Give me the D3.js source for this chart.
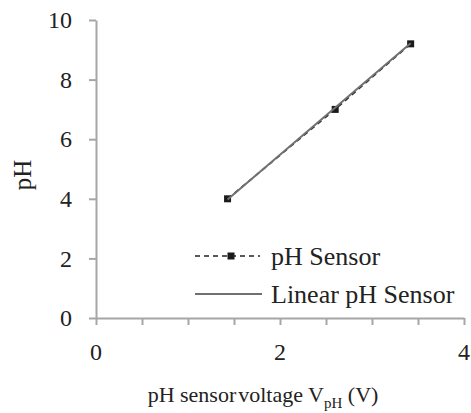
<!DOCTYPE html>
<html>
<head>
<meta charset="utf-8">
<script src="https://cdn.jsdelivr.net/npm/d3@7"></script>
<style>
  body { margin: 0; background: #fff; }
  text { font-family: "Liberation Serif", "Times New Roman", serif; fill: #222; }
</style>
</head>
<body>
<svg id="chart"></svg>
<script>
// data
const voltage = [1.43, 2.60, 3.42];
const phValues = [4.0, 7.0, 9.2];
// linear fit endpoints
const fitVoltage = [1.43, 3.42];
const fitPh = [3.98, 9.22];
const xTicks = [0, 2, 4];
const yTicks = [0, 2, 4, 6, 8, 10];
const legendLabels = ["pH Sensor", "Linear pH Sensor"];

const svg = d3.select("#chart")
    .attr("width", 471)
    .attr("height", 413);

const x = d3.scaleLinear().domain([0, 4]).range([96, 464]);
const y = d3.scaleLinear().domain([0, 10]).range([318, 20]);

const axisColor = "#a6a6a6";

// y axis
const yAxis = svg.append("g")
    .attr("transform", "translate(96,0)")
    .call(d3.axisLeft(y).tickValues(yTicks).tickSize(7).tickSizeOuter(0).tickFormat(d3.format("d")));
yAxis.select(".domain").attr("stroke", axisColor).attr("stroke-width", 2);
yAxis.selectAll(".tick line").attr("stroke", axisColor).attr("stroke-width", 2);
yAxis.selectAll(".tick text")
    .attr("x", -24)
    .style("font-family", "Liberation Serif")
    .style("font-size", "24px")
    .attr("fill", "#222");

// x axis, minor ticks every 0.5
const xAxis = svg.append("g")
    .attr("transform", "translate(0,318)")
    .call(d3.axisBottom(x).ticks(8).tickSize(7).tickSizeOuter(0).tickFormat(""));
xAxis.select(".domain").attr("stroke", axisColor).attr("stroke-width", 2);
xAxis.selectAll(".tick line").attr("stroke", axisColor).attr("stroke-width", 2);

svg.append("g").selectAll("text")
    .data(xTicks)
    .enter().append("text")
    .attr("x", d => x(d))
    .attr("y", 360)
    .attr("text-anchor", "middle")
    .style("font-size", "24px")
    .text(d => d);

// axis titles
svg.append("text")
    .attr("transform", "translate(31,175) rotate(-90)")
    .attr("text-anchor", "middle")
    .style("font-size", "25px")
    .text("pH");

const xTitle = svg.append("text")
    .attr("x", 263)
    .attr("y", 402)
    .attr("text-anchor", "middle")
    .style("font-size", "22px");
xTitle.append("tspan").text("pH sensor");
xTitle.append("tspan").attr("dx", 2).text("voltage V");
xTitle.append("tspan").attr("dy", 6).style("font-size", "15px").text("pH");
xTitle.append("tspan").attr("dy", -6).text(" (V)");

// series
const pts = voltage.map((v, i) => [v, phValues[i]]);
const fit = fitVoltage.map((v, i) => [v, fitPh[i]]);
const line = d3.line().x(d => x(d[0])).y(d => y(d[1]));

svg.append("path")
    .datum(pts)
    .attr("d", line)
    .attr("fill", "none")
    .attr("stroke", "#222")
    .attr("stroke-width", 1.5)
    .attr("stroke-dasharray", "5,4");

svg.append("g").selectAll("rect")
    .data(pts)
    .enter().append("rect")
    .attr("x", d => x(d[0]) - 3.5)
    .attr("y", d => y(d[1]) - 3.5)
    .attr("width", 7)
    .attr("height", 7)
    .attr("fill", "#1a1a1a");

svg.append("path")
    .datum(fit)
    .attr("d", line)
    .attr("fill", "none")
    .attr("stroke", "#707070")
    .attr("stroke-width", 2);

// legend
const legend = svg.append("g");
legend.append("line")
    .attr("x1", 195).attr("x2", 260).attr("y1", 256).attr("y2", 256)
    .attr("stroke", "#222").attr("stroke-width", 1.5).attr("stroke-dasharray", "5,4");
legend.append("rect")
    .attr("x", 227.5).attr("y", 252.5).attr("width", 7).attr("height", 7)
    .attr("fill", "#1a1a1a");
legend.append("line")
    .attr("x1", 195).attr("x2", 262).attr("y1", 294).attr("y2", 294)
    .attr("stroke", "#707070").attr("stroke-width", 2);
legend.selectAll("text")
    .data(legendLabels)
    .enter().append("text")
    .attr("x", 271)
    .attr("y", (d, i) => 265 + i * 38)
    .style("font-size", "26px")
    .text(d => d);
</script>
</body>
</html>
